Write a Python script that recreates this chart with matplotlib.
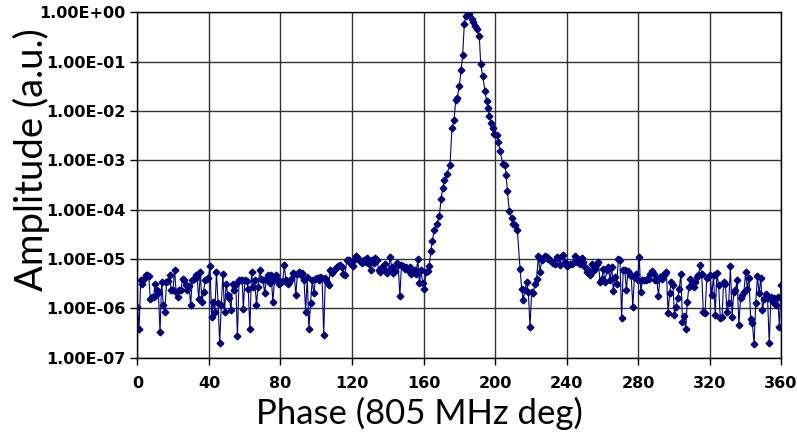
import numpy as np
import matplotlib.pyplot as plt
from matplotlib.ticker import FixedLocator, FuncFormatter

# log10(amplitude), in scan order from 0 to 360 deg
noise_0_58 = [-5.97, -6.42, -5.42, -5.50, -5.40, -5.33, -5.33, -5.35, -5.82, -5.78,
              -5.77, -5.50, -5.63, -5.70, -6.49, -5.47, -5.93, -6.07, -5.47, -5.45,
              -5.33, -5.63, -5.63, -5.22, -5.67, -5.77, -5.63, -5.62, -5.40, -5.43,
              -5.53, -5.62, -5.55, -5.93, -5.43, -5.40, -5.33, -5.37, -5.82, -5.27,
              -5.87, -5.67, -5.42, -5.40, -5.38, -5.15, -6.17, -5.87, -6.07, -5.27,
              -5.90, -6.71, -5.93, -5.30, -6.07, -5.50, -5.73, -5.80, -6.03, -5.50,
              -5.63, -5.50, -6.57, -5.43, -5.42, -5.42]
noise_59_117 = [-6.02, -5.42, -5.45, -5.60, -6.43, -5.27, -5.57, -5.43, -5.93, -5.57,
                -5.22, -5.40, -5.43, -5.69, -5.40, -5.33, -5.49, -5.33, -5.87, -5.43,
                -5.33, -5.43, -5.50, -5.47, -5.45, -5.13, -5.43, -5.50, -5.47, -5.40,
                -5.29, -5.30, -5.73, -5.30, -5.27, -5.33, -5.29, -5.43, -6.07, -5.37,
                -6.42, -5.90, -5.43, -5.70, -5.40, -5.38, -5.43, -5.37, -5.38, -6.55,
                -5.38, -5.47, -5.53, -5.23, -5.29, -5.22, -5.20, -5.17, -5.15, -5.13,
                -5.17, -5.30, -5.33, -5.03]
noise_118_165 = [-5.03, -5.10, -5.15, -5.03, -4.93, -4.95, -5.02, -5.05, -5.09, -5.02,
                 -5.07, -4.98, -5.10, -5.22, -5.02, -5.09, -4.98, -5.02, -5.22, -5.27,
                 -5.17, -5.23, -5.11, -5.29, -5.25, -4.95, -5.17, -5.29, -5.25, -5.09,
                 -5.13, -5.75, -5.13, -5.15, -5.20, -5.17, -5.22, -5.17, -5.30, -5.27,
                 -5.22, -5.30, -5.00, -5.49, -5.23, -5.49, -5.60, -5.27, -5.25, -5.15,
                 -4.83, -4.63]
noise_215_269 = [-5.60, -5.83, -5.62, -5.47, -5.67, -6.38, -5.67, -5.69, -5.50, -5.40,
                 -4.93, -5.27, -5.03, -5.00, -4.93, -4.95, -5.00, -5.03, -5.07, -5.09,
                 -5.11, -4.95, -4.98, -5.13, -4.93, -4.91, -5.07, -5.15, -5.13, -5.10,
                 -5.11, -5.09, -4.93, -5.07, -5.00, -5.11, -4.98, -5.07, -5.17, -5.27,
                 -5.22, -5.33, -5.10, -5.25, -5.20, -5.10, -5.07, -5.47, -5.40, -5.20,
                 -5.47, -5.23, -5.17, -5.43, -5.17, -5.65, -5.37, -5.50, -5.00]
noise_270_316 = [-5.03, -6.20, -5.23, -5.23, -5.63, -5.25, -5.33, -5.33, -5.97, -5.37,
                 -5.30, -5.43, -4.95, -5.67, -5.43, -5.43, -5.42, -5.40, -5.40, -5.30,
                 -5.25, -5.30, -5.43, -5.42, -5.75, -5.37, -5.40, -5.33, -5.30, -5.27,
                 -6.10, -5.69, -5.47, -5.53, -6.13, -5.97, -5.80, -5.60, -5.30, -6.27,
                 -6.15, -6.42, -5.87, -5.57, -5.40, -5.50, -5.57, -5.47, -5.37, -5.33,
                 -5.13, -5.30, -6.07]
noise_317_360 = [-6.09, -5.38, -5.37, -5.33, -5.73, -5.33, -6.13, -5.29, -5.53, -6.20,
                 -6.18, -5.47, -5.50, -6.07, -5.90, -5.15, -6.17, -5.67, -5.63, -5.43,
                 -6.33, -5.80, -5.73, -5.67, -5.27, -5.60, -5.38, -6.22, -6.30, -6.73,
                 -5.90, -5.35, -5.70, -5.38, -6.03, -5.82, -5.71, -5.80, -6.71, -5.77,
                 -5.87, -5.80, -5.93, -5.77, -6.37, -5.53]

# phase span (deg) of each noise stretch
noise_spans = [(0.0, 58.6), (59.2, 117.0), (118.5, 165.0),
               (214.9, 269.0), (269.9, 316.5), (317.5, 360.0)]

# main peak: phase (deg) and log10(amplitude)
peak_phase = [165.9, 167.4, 168.9, 169.8, 170.7, 171.7, 173.0, 174.8, 175.9, 177.1,
              178.0, 178.9, 180.0, 181.0, 181.9, 182.8, 183.6, 185.1,
              185.6, 186.9, 187.9, 188.8, 189.7, 191.2, 192.0, 193.1, 194.4, 195.3,
              196.3, 196.8, 197.8, 198.7, 199.6, 200.9, 201.9, 202.8, 204.3, 205.6,
              206.2, 206.9, 208.0, 209.3, 210.3, 211.2, 212.5, 214.0]
peak_log = [-4.42, -4.29, -4.12, -3.78, -3.57, -3.40, -3.27, -3.10, -2.35, -2.18,
            -1.77, -1.73, -1.50, -1.16, -0.87, -0.24, -0.07, 0.00,
            -0.03, -0.14, -0.19, -0.27, -0.33, -0.48, -1.05, -1.29, -1.60, -1.80,
            -1.94, -2.10, -2.24, -2.35, -2.47, -2.48, -2.62, -2.81, -3.07, -3.10,
            -3.30, -3.62, -4.03, -4.16, -4.30, -4.32, -4.42, -5.20]

noise = [noise_0_58, noise_59_117, noise_118_165,
         noise_215_269, noise_270_316, noise_317_360]
phase_parts = [np.linspace(a, b, len(s)) for (a, b), s in zip(noise_spans, noise)]
log_parts = [np.array(s) for s in noise]
phase_parts.insert(3, np.array(peak_phase))
log_parts.insert(3, np.array(peak_log))
phase = np.concatenate(phase_parts)
amplitude = 10.0 ** np.concatenate(log_parts)

x_ticks = [0, 40, 80, 120, 160, 200, 240, 280, 320, 360]
y_ticks = [1e-7, 1e-6, 1e-5, 1e-4, 1e-3, 1e-2, 1e-1, 1e0]

fig = plt.figure(figsize=(7.97, 4.38), dpi=100)
ax = fig.add_axes([0.1725, 0.1836, 0.8075, 0.7879])

ax.plot(phase, amplitude, color="#000080", linewidth=0.8, marker="D",
        markersize=3.4, markerfacecolor="#000080", markeredgecolor="#000080")

ax.set_yscale("log")
ax.set_xlim(0, 360)
ax.set_ylim(1e-7, 1e0)
ax.xaxis.set_major_locator(FixedLocator(x_ticks))
ax.yaxis.set_major_locator(FixedLocator(y_ticks))
ax.yaxis.set_minor_locator(FixedLocator([]))
ax.yaxis.set_major_formatter(FuncFormatter(lambda v, pos: "{:.2E}".format(v)))
ax.grid(True, which="major", color="#333333", linewidth=1.0)
ax.set_axisbelow(True)

for s in ax.spines.values():
    s.set_color("black")
    s.set_linewidth(1.0)

ax.tick_params(axis="both", direction="out", length=5, width=1, colors="black")
ax.tick_params(axis="x", pad=8)
for lab in ax.get_yticklabels() + ax.get_xticklabels():
    lab.set_fontweight("bold")
    lab.set_family("DejaVu Sans")
    lab.set_fontsize(11.5)

ax.set_xlabel("Phase (805 MHz deg)", fontsize=25, family="Lato")
ax.set_ylabel("Amplitude (a.u.)", fontsize=27.5, family="Lato")
ax.xaxis.set_label_coords(0.4375, -0.115)
ax.yaxis.set_label_coords(-0.136, 0.573)

fig.savefig("out.png", dpi=100)
